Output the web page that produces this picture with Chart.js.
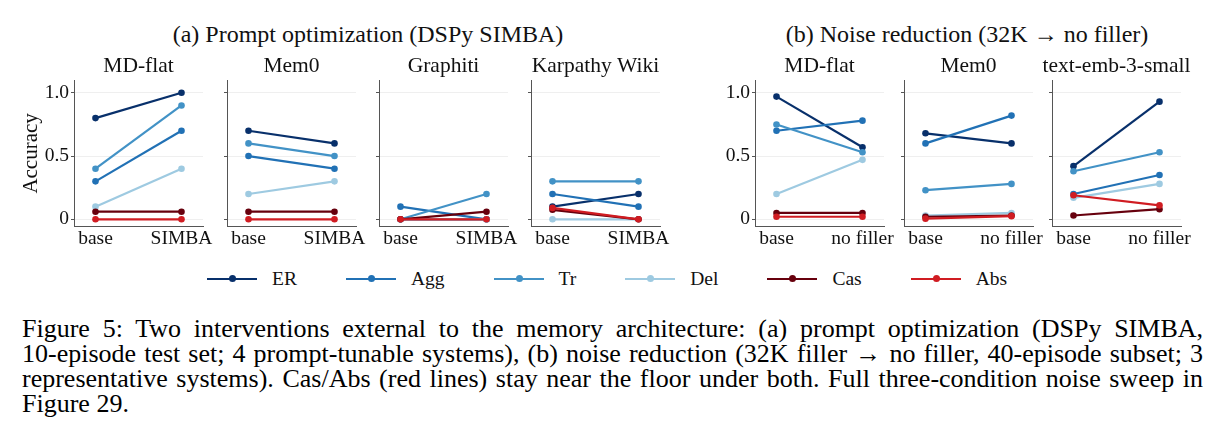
<!DOCTYPE html>
<html>
<head>
<meta charset="utf-8">
<script src="https://cdn.jsdelivr.net/npm/chart.js@4.4.1/dist/chart.umd.min.js"></script>
<style>
  html, body { margin: 0; padding: 0; background: #fff; }
  body {
    width: 1225px; height: 447px; position: relative; overflow: hidden;
    font-family: "Liberation Serif", "Times New Roman", serif; color: #111;
  }
  .group-title {
    position: absolute; top: 19px; font-size: 24px; line-height: 30px;
    white-space: nowrap; transform: translateX(-50%);
  }
  canvas.panel { position: absolute; top: 46px; }
  #legend {
    position: absolute; top: 266px; left: 207px; height: 26px;
    display: flex; align-items: center; gap: 49px; font-size: 19.5px;
  }
  #legend .item { display: flex; align-items: center; }
  #legend .swatch { position: relative; width: 50px; height: 2.5px; margin-right: 15px; }
  #legend .swatch i {
    position: absolute; left: 22px; top: -2.5px; width: 7px; height: 7px; border-radius: 50%;
  }
  #caption {
    position: absolute; left: 22px; top: 316px; width: 1181px;
    font-size: 26px; line-height: 25px; color: #000;
  }
  #caption div { white-space: nowrap; text-align: justify; text-align-last: justify; }
  #caption div.last { text-align-last: left; }
</style>
</head>
<body>

<div class="group-title" style="left:368px">(a) Prompt optimization (DSPy SIMBA)</div>
<div class="group-title" style="left:967px">(b) Noise reduction (32K → no filler)</div>

<canvas id="p0" class="panel"></canvas>
<canvas id="p1" class="panel"></canvas>
<canvas id="p2" class="panel"></canvas>
<canvas id="p3" class="panel"></canvas>
<canvas id="p4" class="panel"></canvas>
<canvas id="p5" class="panel"></canvas>
<canvas id="p6" class="panel"></canvas>

<div id="legend"></div>

<div id="caption">
  <div>Figure 5: Two interventions external to the memory architecture: (a) prompt optimization (DSPy SIMBA,</div>
  <div>10-episode test set; 4 prompt-tunable systems), (b) noise reduction (32K filler → no filler, 40-episode subset; 3</div>
  <div>representative systems). Cas/Abs (red lines) stay near the floor under both. Full three-condition noise sweep in</div>
  <div class="last">Figure 29.</div>
</div>

<script>
// Series (same order in every panel below)
const seriesNames = ['ER', 'Agg', 'Tr', 'Del', 'Cas', 'Abs'];
const seriesColors = ['#08306b', '#2171b5', '#4292c6', '#9ecae1', '#67000d', '#d01c22'];

// Panel titles and x categories
const promptSystems = ['MD-flat', 'Mem0', 'Graphiti', 'Karpathy Wiki'];
const noiseSystems = ['MD-flat', 'Mem0', 'text-emb-3-small'];
const promptConditions = ['base', 'SIMBA'];
const noiseConditions = ['base', 'no filler'];
const yTicks = [0, 0.5, 1.0];

// Accuracy per series: [base, after]  (ER, Agg, Tr, Del, Cas, Abs)
const simbaMdFlat    = [[0.80, 1.00], [0.30, 0.70], [0.40, 0.90], [0.10, 0.40], [0.06, 0.06], [0.00, 0.00]];
const simbaMem0      = [[0.70, 0.60], [0.50, 0.40], [0.60, 0.50], [0.20, 0.30], [0.06, 0.06], [0.00, 0.00]];
const simbaGraphiti  = [[0.00, 0.00], [0.10, 0.00], [0.00, 0.20], [0.00, 0.00], [0.00, 0.06], [0.00, 0.00]];
const simbaKarpathy  = [[0.10, 0.20], [0.20, 0.10], [0.30, 0.30], [0.00, 0.00], [0.075, 0.00], [0.09, 0.00]];
const noiseMdFlat    = [[0.97, 0.57], [0.70, 0.78], [0.75, 0.53], [0.20, 0.47], [0.05, 0.05], [0.02, 0.02]];
const noiseMem0      = [[0.68, 0.60], [0.60, 0.82], [0.23, 0.28], [0.03, 0.05], [0.02, 0.03], [0.005, 0.025]];
const noiseTextEmb   = [[0.42, 0.93], [0.20, 0.35], [0.38, 0.53], [0.17, 0.28], [0.03, 0.08], [0.19, 0.11]];

const FONT = '"Liberation Serif", "Times New Roman", serif';
const INK = '#111';
const AXIS = '#555';
const Y_AXIS_W = 74;   // fixed y-axis band so all plot areas line up
const PLOT_W = 129;

// left edge of each plot area
const plotLefts = [74, 226.5, 378.5, 531, 755, 903.5, 1052];

const panels = [
  { title: promptSystems[0], cond: promptConditions, values: simbaMdFlat, labels: true, yTitle: true },
  { title: promptSystems[1], cond: promptConditions, values: simbaMem0 },
  { title: promptSystems[2], cond: promptConditions, values: simbaGraphiti },
  { title: promptSystems[3], cond: promptConditions, values: simbaKarpathy },
  { title: noiseSystems[0], cond: noiseConditions, values: noiseMdFlat, labels: true },
  { title: noiseSystems[1], cond: noiseConditions, values: noiseMem0 },
  { title: noiseSystems[2], cond: noiseConditions, values: noiseTextEmb }
];

function makePanel(idx, p) {
  const canvas = document.getElementById('p' + idx);
  // symmetric margins so the canvas-centred title sits over the plot area
  canvas.width = Y_AXIS_W * 2 + PLOT_W;
  canvas.height = 210;
  canvas.style.left = (plotLefts[idx] - Y_AXIS_W) + 'px';

  const datasets = seriesNames.map((name, i) => ({
    label: name,
    data: p.values[i].map((v, j) => ({ x: j, y: v })),
    borderColor: seriesColors[i],
    backgroundColor: seriesColors[i],
    borderWidth: 2.2,
    pointRadius: 3.3,
    pointBorderWidth: 0,
    order: seriesNames.length - i   // later series drawn on top
  }));

  new Chart(canvas, {
    type: 'line',
    data: { datasets },
    options: {
      responsive: false,
      animation: false,
      layout: { padding: 0 },
      plugins: {
        legend: { display: false },
        tooltip: { enabled: false },
        title: {
          display: true, text: p.title, color: INK,
          font: { family: FONT, size: 21.5, weight: 'normal' },
          padding: { top: 7, bottom: 2 }
        }
      },
      scales: {
        x: {
          type: 'linear', min: -0.25, max: 1.25,
          afterBuildTicks: s => { s.ticks = [{ value: 0 }, { value: 1 }]; },
          afterFit: s => { s.height = 30; s.paddingLeft = 0; s.paddingRight = 0; },
          ticks: {
            callback: v => p.cond[v], color: INK, padding: 1,
            maxRotation: 0, autoSkip: false,
            font: { family: FONT, size: 19.5 }
          },
          grid: { display: false, drawTicks: false },
          border: { color: AXIS, width: 1 }
        },
        y: {
          min: -0.053, max: 1.095,
          afterBuildTicks: s => { s.ticks = yTicks.map(v => ({ value: v })); },
          afterFit: s => { s.width = Y_AXIS_W; s.paddingTop = 0; s.paddingBottom = 0; },
          ticks: {
            display: !!p.labels, color: INK, padding: 2,
            callback: v => (v === 0 ? '0' : v.toFixed(1)),
            font: { family: FONT, size: 19.5 }
          },
          grid: { color: '#efefef', lineWidth: 1, tickColor: AXIS, tickLength: 3 },
          border: { color: AXIS, width: 1 },
          title: {
            display: !!p.yTitle, text: 'Accuracy', color: INK,
            font: { family: FONT, size: 21 },
            padding: { top: 19, bottom: 0 }
          }
        },
        // empty right-hand band, mirrors the y axis width
        spacer: {
          position: 'right',
          afterFit: s => { s.width = Y_AXIS_W; s.paddingTop = 0; s.paddingBottom = 0; },
          ticks: { display: false },
          grid: { display: false, drawTicks: false },
          border: { display: false }
        }
      }
    }
  });
}

panels.forEach((p, i) => makePanel(i, p));

// Legend built from the series arrays
const legend = document.getElementById('legend');
seriesNames.forEach((name, i) => {
  const item = document.createElement('div');
  item.className = 'item';
  item.innerHTML = '<span class="swatch" style="background:' + seriesColors[i] + '">' +
    '<i style="background:' + seriesColors[i] + '"></i></span><span>' + name + '</span>';
  legend.appendChild(item);
});
</script>
</body>
</html>
